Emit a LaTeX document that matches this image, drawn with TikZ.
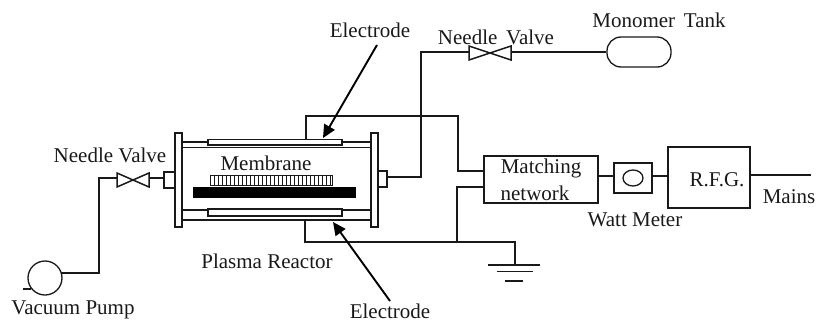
\documentclass[tikz,border=0pt]{standalone}
\usepackage{fontspec}
\setmainfont{Liberation Serif}
\usetikzlibrary{arrows.meta}
\usetikzlibrary{shapes}
\tikzset{
    wire/.style={draw=black!90, line width=1.3pt},
    part/.style={draw=black!90, line width=1.3pt, fill=white, inner sep=0pt},
    lbl/.style={inner sep=0pt, font=\fontsize{21}{23}\selectfont, text=black!90},
    pointer/.style={draw=black, line width=1.9pt, -{Triangle[length=13pt,width=12pt]}}
}
\newcommand{\valve}[3]{
    \draw[wire, line width=1.5pt] (#1-#3,#2-7) -- (#1+#3,#2+7) -- (#1+#3,#2-7) -- (#1-#3,#2+7) -- cycle;
}
\begin{document}
\begin{tikzpicture}[x=1pt,y=-1pt]
        \useasboundingbox (0,0) rectangle (816,324);

        % pump side
        \node[part, circle, minimum size=34pt] (pump) at (45,278) {};
        \coordinate (pumpTail) at (23,289);
        \coordinate (valveL) at (117,178);
        \coordinate (valveR) at (149,178);
        \coordinate (portL) at (164,180);
        \draw[wire] (pumpTail) -- (31,289);
        \draw[wire] (61,273) -- (99,273) -- (99,178) -- (valveL);
        \draw[wire] (valveR) -- (portL |- valveR);
        \valve{133}{180}{16}

        % reactor
        \draw[wire] (182,142) -- (208,142);
        \draw[wire] (342,142) -- (371,142);
        \draw[wire, fill=white] (208,139.5) rectangle (342,145);
        \draw[wire] (182,147.5) -- (371,147.5);
        \draw[wire] (182,210) -- (371,210);
        \draw[wire, fill=white] (208,209) rectangle (342,216);
        \draw[wire, line width=1.8pt] (208,209) -- (342,209);
        \draw[wire, line width=1.6pt] (182,220) -- (371,220);
        \node[part, minimum width=7pt, minimum height=94pt] (flangeL) at (178.5,180) {};
        \node[part, minimum width=7pt, minimum height=94pt] (flangeR) at (374.5,180) {};
        \node[part, minimum width=11pt, minimum height=16pt] (portLbox) at (169.5,180) {};
        \node[part, minimum width=9pt, minimum height=16pt] (portRbox) at (382.5,179) {};

        % membrane
        \draw[wire, line width=.9pt] (210,175.5) rectangle (332,185);
        \foreach \x in {214,218,...,330}
            \draw[wire, line width=.9pt] (\x,175.5) -- (\x,185);
        \draw[fill=black] (193,187) rectangle (355,197);
        \node[lbl] (membrane) at (266,163) {Membrane};

        % tank side
        \node[part, rounded corners=14pt, minimum width=64pt, minimum height=30pt] (tank) at (639,52) {};
        \draw[wire] (portRbox.east |- 0,177) -- (421,177) -- (421,52) -- (469,52);
        \draw[wire] (511,52) -- (tank.west);
        \valve{490}{53}{21}

        % electrical side
        \node[part, minimum width=114pt, minimum height=47pt] (match) at (541,179.5) {};
        \node[part, minimum width=38pt, minimum height=30pt] (watt) at (633,178) {};
        \node[part, minimum width=82pt, minimum height=61pt] (rfg) at (709,177.5) {};
        \node[part, ellipse, minimum width=20pt, minimum height=16pt] (meter) at (watt.center) {};
        \coordinate (mains) at (811,175);
        \draw[wire] (306,139) -- (306,116) -- (458,116) -- (458,171) -- (match.west |- 0,171);
        \draw[wire] (match.west |- 0,187) -- (457,187) -- (457,242) -- (305,242) -- (305,221);
        \draw[wire] (match.east |- 0,176) -- (watt.west |- 0,176);
        \draw[wire] (watt.east |- 0,176) -- (rfg.west |- 0,176);
        \draw[wire] (rfg.east |- mains) -- (mains);

        % ground
        \draw[wire] (457,242) -- (515,242) -- (515,265);
        \draw[wire, line width=1.6pt] (488,265) -- (540,265);
        \draw[wire, line width=1.6pt] (497,271.5) -- (533,271.5);
        \draw[wire, line width=1.8pt] (505,281) -- (523,281);

        % labels
        \node[lbl] (lblValveL) at (110,155) {Needle Valve};
        \node[lbl] (lblPump) at (73,310) {Vacuum Pump};
        \node[lbl] (lblReactor) at (267,261) {Plasma Reactor};
        \node[lbl] (lblElecT) at (370,30) {Electrode};
        \node[lbl] (lblElecB) at (390,311) {Electrode};
        \node[lbl] (lblValveT) at (496,37) {Needle\, Valve};
        \node[lbl] (lblTank) at (659,20) {Monomer\, Tank};
        \node[lbl] (lblMatch) at (541,168) {Matching};
        \node[lbl] (lblNet) at (535,193) {network};
        \node[lbl] (lblWatt) at (635,220) {Watt Meter};
        \node[lbl] (lblRfg) at (717,180) {R.F.G.};
        \node[lbl] (lblMains) at (789,197) {Mains};

        % pointers
        \coordinate (ptrT) at (377,45);
        \coordinate (ptrB) at (390,301);
        \draw[pointer] (ptrT) -- (323,138);
        \draw[pointer] (ptrB) -- (333,222);
    \end{tikzpicture}
\end{document}
